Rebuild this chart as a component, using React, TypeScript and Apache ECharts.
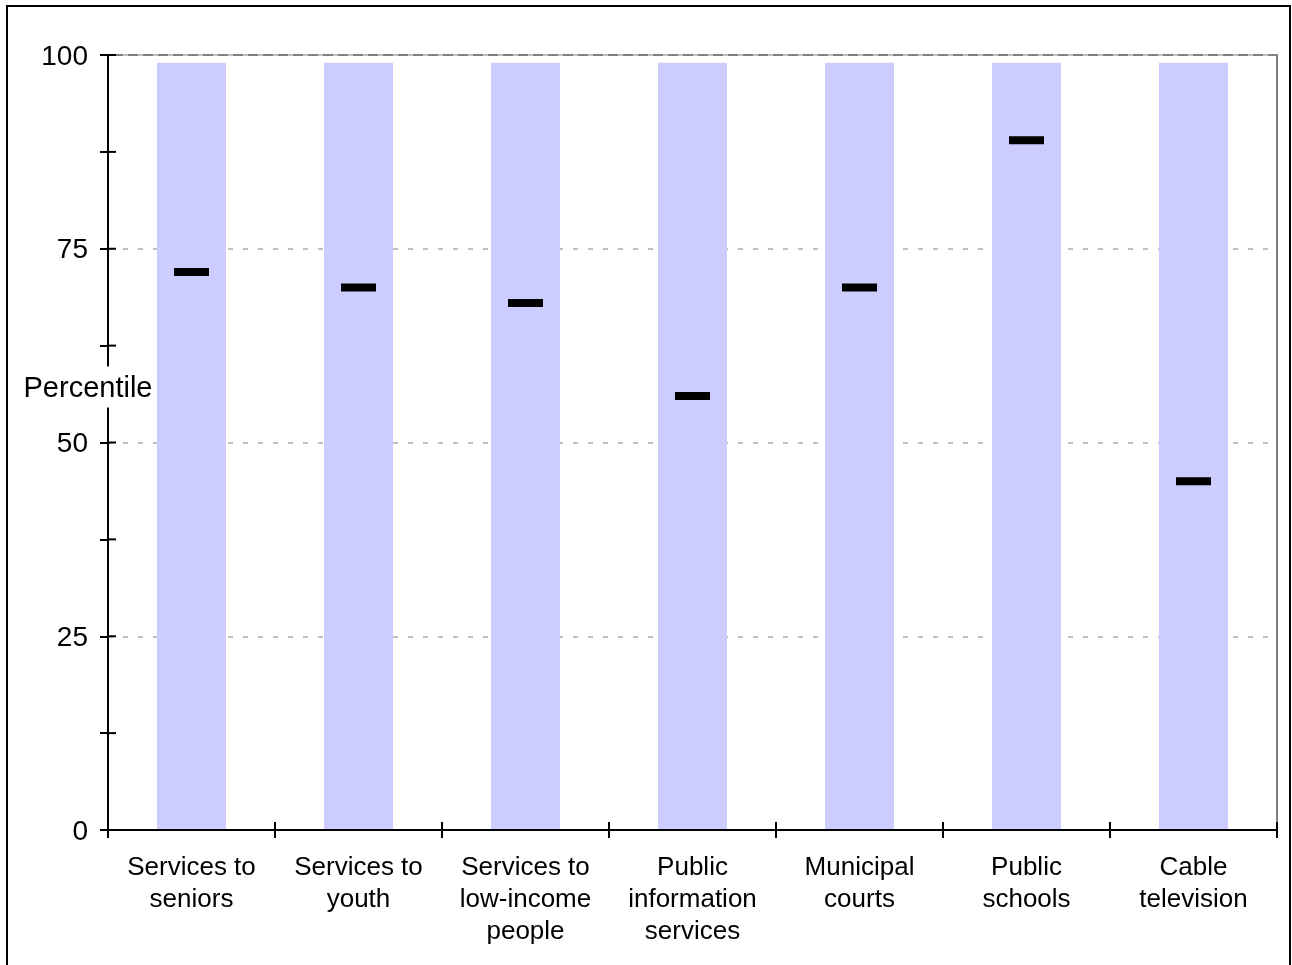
import React, { useEffect, useRef } from "react";
import * as echarts from "echarts";

const categories = [
  "Services to\nseniors",
  "Services to\nyouth",
  "Services to\nlow-income\npeople",
  "Public\ninformation\nservices",
  "Municipal\ncourts",
  "Public\nschools",
  "Cable\ntelevision",
];
const rangeTop = [99, 99, 99, 99, 99, 99, 99];
const percentile = [72, 70, 68, 56, 70, 89, 45];
const yTickLabels = [0, 25, 50, 75, 100];
const yTickValues = [0, 12.5, 25, 37.5, 50, 62.5, 75, 87.5, 100];
const xTickBoundaries = [0, 1, 2, 3, 4, 5, 6, 7];

const FONT = "'Liberation Sans', Arial, sans-serif";
const TICK = 8;

export default function App() {
  const ref = useRef<HTMLDivElement>(null);
  useEffect(() => {
    if (!ref.current) return;
    const chart = echarts.init(ref.current, undefined, { renderer: "svg" });
    const last = categories.length - 1;
    chart.setOption({
      animation: false,
      textStyle: { fontFamily: FONT },
      grid: {
        left: 108,
        right: 15,
        top: 55,
        bottom: 135,
        show: true,
        borderColor: "#808080",
        borderWidth: 2,
        backgroundColor: "transparent",
      },
      xAxis: [
        {
          type: "category",
          data: categories,
          position: "bottom",
          z: 5,
          axisLine: { show: true, lineStyle: { color: "#000", width: 2 } },
          axisTick: { show: true, inside: false, length: TICK, lineStyle: { color: "#000", width: 2 } },
          axisLabel: {
            interval: 0,
            color: "#000",
            fontSize: 26,
            lineHeight: 32,
            margin: 20,
            fontFamily: FONT,
          },
          splitLine: { show: false },
        },
      ],
      yAxis: [
        {
          type: "value",
          min: 0,
          max: 100,
          interval: 12.5,
          position: "left",
          z: 5,
          axisLine: { show: true, lineStyle: { color: "#000", width: 2 } },
          axisTick: { show: true, inside: false, length: TICK, lineStyle: { color: "#000", width: 2 } },
          axisLabel: {
            color: "#000",
            fontSize: 28,
            margin: 20,
            fontFamily: FONT,
            formatter: (v: number) => (yTickLabels.includes(v) ? String(v) : ""),
          },
          splitLine: { show: false },
        },
        {
          type: "value",
          min: 0,
          max: 100,
          interval: 25,
          position: "left",
          offset: 0,
          z: 0,
          axisLine: { show: false },
          axisTick: { show: false },
          axisLabel: { show: false },
          splitLine: { show: true, lineStyle: { color: "#c0c0c0", width: 2, type: [5, 10] } },
        },
      ],
      graphic: [
        {
          type: "text",
          x: 88,
          y: 387,
          z: 100,
          style: {
            text: "Percentile",
            fill: "#000",
            font: `29px ${FONT}`,
            align: "center",
            verticalAlign: "middle",
            backgroundColor: "#fff",
            padding: [6, 0],
          },
        },
      ],
      series: [
        {
          type: "bar",
          xAxisIndex: 0,
          yAxisIndex: 0,
          data: rangeTop,
          barWidth: 69,
          z: 2,
          itemStyle: { color: "#ccccff" },
        },
        {
          type: "scatter",
          xAxisIndex: 0,
          yAxisIndex: 0,
          data: percentile,
          symbol: "rect",
          symbolSize: [35, 8],
          z: 3,
          itemStyle: { color: "#000", opacity: 1 },
        },
        {
          type: "custom",
          xAxisIndex: 0,
          yAxisIndex: 0,
          z: 6,
          silent: true,
          data: yTickValues.map((v) => [0, v]),
          renderItem: (_p: any, api: any) => {
            const c = api.coord([0, api.value(1)]);
            const bw = api.size([1, 0])[0];
            const x0 = c[0] - bw / 2;
            return {
              type: "line",
              shape: { x1: x0, y1: c[1], x2: x0 + TICK, y2: c[1] },
              style: { stroke: "#000", lineWidth: 2 },
            };
          },
        },
        {
          type: "custom",
          xAxisIndex: 0,
          yAxisIndex: 0,
          z: 6,
          silent: true,
          data: xTickBoundaries.map((i) => [i, 0]),
          renderItem: (_p: any, api: any) => {
            const idx = api.value(0);
            const c = api.coord([Math.min(idx, last), 0]);
            const bw = api.size([1, 0])[0];
            const x = c[0] + (idx > last ? bw / 2 : -bw / 2);
            return {
              type: "line",
              shape: { x1: x, y1: c[1], x2: x, y2: c[1] - TICK },
              style: { stroke: "#000", lineWidth: 2 },
            };
          },
        },
      ],
    });
    return () => chart.dispose();
  }, []);
  return (
    <div>
      <div
        style={{
          position: "fixed",
          left: 6,
          top: 5,
          width: 1285,
          height: 975,
          boxSizing: "border-box",
          border: "2px solid #000",
        }}
      />
      <div
        ref={ref}
        style={{ position: "fixed", left: 0, top: 0, width: 1292, height: 965 }}
      />
    </div>
  );
}
